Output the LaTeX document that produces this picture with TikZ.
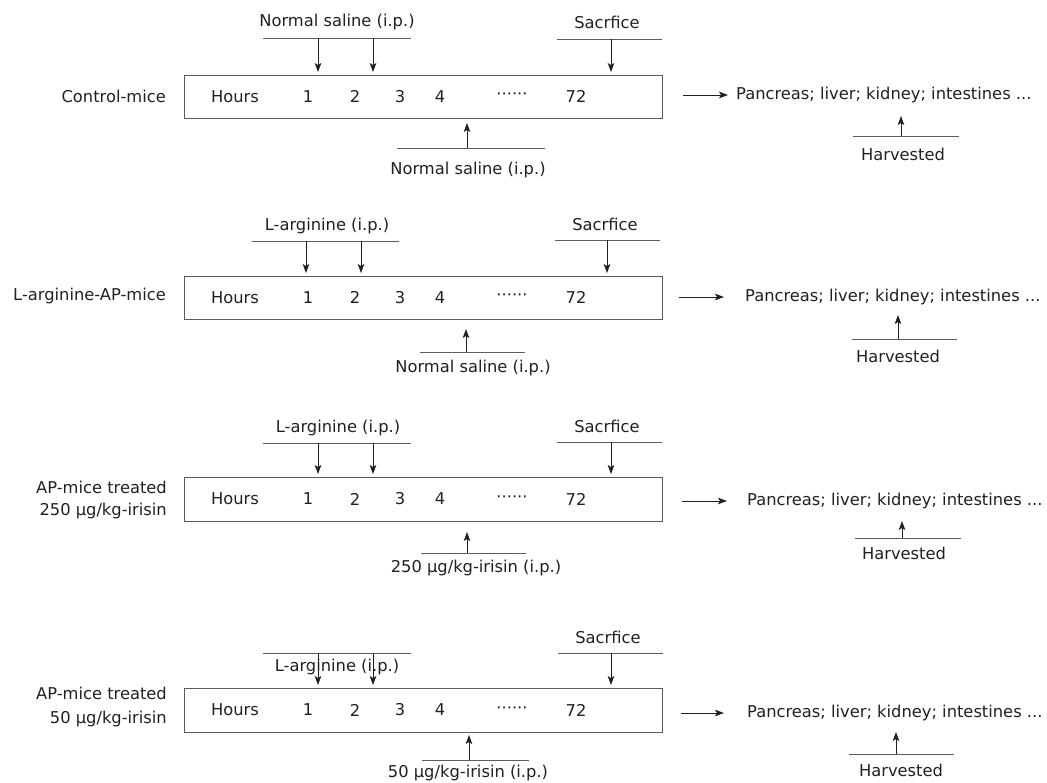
\documentclass[tikz,border=0pt]{standalone}
\usepackage{fontspec}
\setmainfont{DejaVu Sans}
\usetikzlibrary{arrows.meta}
\definecolor{ink}{RGB}{35,31,32}
\definecolor{barc}{RGB}{95,92,93}
\definecolor{boxc}{RGB}{88,89,91}
\tikzset{
  txt/.style={inner sep=0pt, text=ink, font=\fontsize{16.3}{19}\selectfont},
  tlbox/.style={draw=boxc, line width=0.9pt, inner sep=0pt, minimum width=478pt, minimum height=43pt},
  barline/.style={draw=barc, line width=0.9pt},
  arr/.style={draw=ink, line width=0.8pt, -{Stealth[length=9pt,width=6.5pt,inset=2pt]}},
  downarr/.style={arr, shorten >=2.5pt},
}
\begin{document}
\begin{tikzpicture}[x=1pt,y=-1pt]
\useasboundingbox (0,0) rectangle (1047,782);

% ---------------- Panel 1 ----------------
\node[tlbox] (b1) at (423,96.5) {};
\node[txt, anchor=east] (l1) at (166,96) {Control-mice};
\node[txt] (h1) at (235,96.5) {Hours};
\node[txt] (n1a) at (308,96.5) {1};
\node[txt] (n1b) at (355,96.5) {2};
\node[txt] (n1c) at (400,96.5) {3};
\node[txt] (n1d) at (440,96.5) {4};
\node[txt] (d1) at (512,96.5) {\textperiodcentered\textperiodcentered\textperiodcentered\textperiodcentered\textperiodcentered\textperiodcentered};
\node[txt] (s1) at (576,96.5) {72};
\node[txt] (t1) at (337,22) {Normal saline (i.p.)};
\coordinate (t1l) at (263,38); \coordinate (t1r) at (411,38);
\draw[barline] (t1l) -- (t1r);
\coordinate (t1a) at (318,38); \coordinate (t1b) at (373,38);
\draw[downarr] (t1a) -- (t1a |- b1.north);
\draw[downarr] (t1b) -- (t1b |- b1.north);
\node[txt] (k1) at (607,22) {Sacrfice};
\coordinate (k1l) at (557,39); \coordinate (k1r) at (662,39);
\draw[barline] (k1l) -- (k1r);
\coordinate (k1a) at (611,39);
\draw[downarr] (k1a) -- (k1a |- b1.north);
\coordinate (u1l) at (397,148); \coordinate (u1r) at (545,148);
\draw[barline] (u1l) -- (u1r);
\coordinate (u1a) at (467,148); \coordinate (u1t) at (467,123);
\draw[arr] (u1a) -- (u1t);
\node[txt] (w1) at (468,170) {Normal saline (i.p.)};
\coordinate (r1s) at (683,95); \coordinate (r1e) at (728,95);
\draw[arr] (r1s) -- (r1e);
\node[txt, anchor=west] (o1) at (736,95) {Pancreas; liver; kidney; intestines ...};
\coordinate (v1l) at (853,136); \coordinate (v1r) at (959,136);
\draw[barline] (v1l) -- (v1r);
\coordinate (v1a) at (901,136); \coordinate (v1t) at (901,116);
\draw[arr] (v1a) -- (v1t);
\node[txt] (hv1) at (903,154) {Harvested};

% ---------------- Panel 2 ----------------
\node[tlbox] (b2) at (423,297.5) {};
\node[txt, anchor=east] (l2) at (166,296) {L-arginine-AP-mice};
\node[txt] (h2) at (235,297.5) {Hours};
\node[txt] (n2a) at (308,297.5) {1};
\node[txt] (n2b) at (355,297.5) {2};
\node[txt] (n2c) at (400,297.5) {3};
\node[txt] (n2d) at (440,297.5) {4};
\node[txt] (d2) at (512,297.5) {\textperiodcentered\textperiodcentered\textperiodcentered\textperiodcentered\textperiodcentered\textperiodcentered};
\node[txt] (s2) at (576,297.5) {72};
\node[txt] (t2) at (327,226) {L-arginine (i.p.)};
\coordinate (t2l) at (252,241); \coordinate (t2r) at (399,241);
\draw[barline] (t2l) -- (t2r);
\coordinate (t2a) at (306,241); \coordinate (t2b) at (361,241);
\draw[downarr] (t2a) -- (t2a |- b2.north);
\draw[downarr] (t2b) -- (t2b |- b2.north);
\node[txt] (k2) at (605,224) {Sacrfice};
\coordinate (k2l) at (555,240); \coordinate (k2r) at (660,240);
\draw[barline] (k2l) -- (k2r);
\coordinate (k2a) at (607,240);
\draw[downarr] (k2a) -- (k2a |- b2.north);
\coordinate (u2l) at (420,352); \coordinate (u2r) at (525,352);
\draw[barline] (u2l) -- (u2r);
\coordinate (u2a) at (466,352); \coordinate (u2t) at (466,329);
\draw[arr] (u2a) -- (u2t);
\node[txt] (w2) at (473,368) {Normal saline (i.p.)};
\coordinate (r2s) at (679,297); \coordinate (r2e) at (724,297);
\draw[arr] (r2s) -- (r2e);
\node[txt, anchor=west] (o2) at (745,297) {Pancreas; liver; kidney; intestines ...};
\coordinate (v2l) at (852,339); \coordinate (v2r) at (957,339);
\draw[barline] (v2l) -- (v2r);
\coordinate (v2a) at (898,339); \coordinate (v2t) at (898,315);
\draw[arr] (v2a) -- (v2t);
\node[txt] (hv2) at (898,356) {Harvested};

% ---------------- Panel 3 ----------------
\node[tlbox, minimum height=44pt] (b3) at (423,499) {};
\node[txt, anchor=east] (l3a) at (167,487) {AP-mice treated};
\node[txt, anchor=east] (l3b) at (167,511) {250 μg/kg-irisin};
\node[txt] (h3) at (235,499) {Hours};
\node[txt] (n3a) at (308,499) {1};
\node[txt] (n3b) at (355,499) {2};
\node[txt] (n3c) at (400,499) {3};
\node[txt] (n3d) at (440,499) {4};
\node[txt] (d3) at (512,499) {\textperiodcentered\textperiodcentered\textperiodcentered\textperiodcentered\textperiodcentered\textperiodcentered};
\node[txt] (s3) at (576,499) {72};
\node[txt] (t3) at (338,428) {L-arginine (i.p.)};
\coordinate (t3l) at (263,443); \coordinate (t3r) at (411,443);
\draw[barline] (t3l) -- (t3r);
\coordinate (t3a) at (318,443); \coordinate (t3b) at (373,443);
\draw[downarr] (t3a) -- (t3a |- b3.north);
\draw[downarr] (t3b) -- (t3b |- b3.north);
\node[txt] (k3) at (607,426) {Sacrfice};
\coordinate (k3l) at (557,442); \coordinate (k3r) at (662,442);
\draw[barline] (k3l) -- (k3r);
\coordinate (k3a) at (611,442);
\draw[downarr] (k3a) -- (k3a |- b3.north);
\coordinate (u3l) at (421,553); \coordinate (u3r) at (526,553);
\draw[barline] (u3l) -- (u3r);
\coordinate (u3a) at (467,553); \coordinate (u3t) at (467,532);
\draw[arr] (u3a) -- (u3t);
\node[txt] (w3) at (476,568) {250 μg/kg-irisin (i.p.)};
\coordinate (r3s) at (682,501); \coordinate (r3e) at (727,501);
\draw[arr] (r3s) -- (r3e);
\node[txt, anchor=west] (o3) at (747,501) {Pancreas; liver; kidney; intestines ...};
\coordinate (v3l) at (855,538); \coordinate (v3r) at (961,538);
\draw[barline] (v3l) -- (v3r);
\coordinate (v3a) at (902,538); \coordinate (v3t) at (902,521);
\draw[arr] (v3a) -- (v3t);
\node[txt] (hv3) at (904,553) {Harvested};

% ---------------- Panel 4 ----------------
\node[tlbox, minimum height=44pt] (b4) at (423,710) {};
\node[txt, anchor=east] (l4a) at (167,693) {AP-mice treated};
\node[txt, anchor=east] (l4b) at (167,719) {50 μg/kg-irisin};
\node[txt] (h4) at (235,710) {Hours};
\node[txt] (n4a) at (308,710) {1};
\node[txt] (n4b) at (355,710) {2};
\node[txt] (n4c) at (400,710) {3};
\node[txt] (n4d) at (440,710) {4};
\node[txt] (d4) at (512,710) {\textperiodcentered\textperiodcentered\textperiodcentered\textperiodcentered\textperiodcentered\textperiodcentered};
\node[txt] (s4) at (576,710) {72};
\node[txt] (t4) at (337,667) {L-arginine (i.p.)};
\coordinate (t4l) at (263,653); \coordinate (t4r) at (411,653);
\draw[barline] (t4l) -- (t4r);
\coordinate (t4a) at (318,653); \coordinate (t4b) at (373,653);
\draw[downarr] (t4a) -- (t4a |- b4.north);
\draw[downarr] (t4b) -- (t4b |- b4.north);
\node[txt] (k4) at (608,637) {Sacrfice};
\coordinate (k4l) at (558,653); \coordinate (k4r) at (663,653);
\draw[barline] (k4l) -- (k4r);
\coordinate (k4a) at (611,653);
\draw[downarr] (k4a) -- (k4a |- b4.north);
\coordinate (u4l) at (422,760); \coordinate (u4r) at (529,760);
\draw[barline] (u4l) -- (u4r);
\coordinate (u4a) at (469,760); \coordinate (u4t) at (469,735);
\draw[arr] (u4a) -- (u4t);
\node[txt] (w4) at (468,773) {50 μg/kg-irisin (i.p.)};
\coordinate (r4s) at (681,713); \coordinate (r4e) at (724,713);
\draw[arr] (r4s) -- (r4e);
\node[txt, anchor=west] (o4) at (747,713) {Pancreas; liver; kidney; intestines ...};
\coordinate (v4l) at (849,754); \coordinate (v4r) at (954,754);
\draw[barline] (v4l) -- (v4r);
\coordinate (v4a) at (896,754); \coordinate (v4t) at (896,732);
\draw[arr] (v4a) -- (v4t);
\node[txt] (hv4) at (901,770) {Harvested};
\end{tikzpicture}
\end{document}
